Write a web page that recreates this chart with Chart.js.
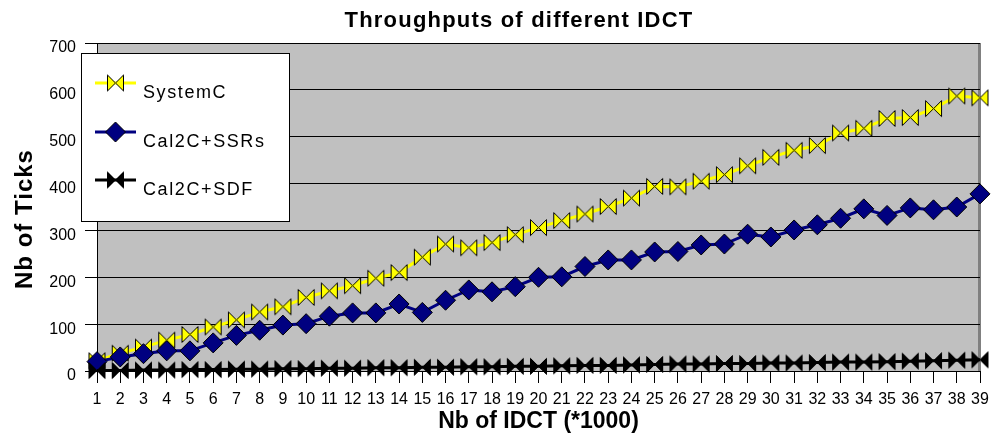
<!DOCTYPE html>
<html>
<head>
<meta charset="utf-8">
<script src="https://cdn.jsdelivr.net/npm/chart.js@4"></script>
<style>body{margin:0;background:#fff}</style>
</head>
<body>
<canvas id="container" width="1000" height="438"></canvas>
<script>
const idct = ['1','2','3','4','5','6','7','8','9','10','11','12','13','14','15','16','17','18','19','20',
    '21','22','23','24','25','26','27','28','29','30','31','32','33','34','35','36','37','38','39']
const systemC = [22, 38, 51, 66, 78, 94, 109, 126, 137, 157, 171, 182, 198, 210, 243, 271, 263, 274, 291, 306,
    321, 335, 351, 369, 394, 393, 405, 419, 438, 456, 471, 481, 508, 518, 539, 541, 560, 587, 583]
const ssrs = [20, 30, 37, 43, 43, 60, 76, 87, 98, 101, 117, 124, 124, 143, 125, 151, 173, 169, 180, 200,
    201, 223, 237, 237, 254, 255, 269, 271, 292, 286, 301, 312, 326, 346, 332, 348, 344, 350, 378]
const sdf = [1, 1, 2, 2, 3, 3, 4, 4, 5, 5, 6, 6, 7, 7, 8, 8, 9, 9, 10, 10,
    11, 12, 12, 13, 14, 15, 15, 16, 16, 17, 17, 18, 19, 19, 20, 21, 22, 23, 24]
const yTicks = [0, 100, 200, 300, 400, 500, 600, 700]
const chartTitle = 'Throughputs of different IDCT'
const yTitle = 'Nb of Ticks'

const family = '"Liberation Sans", Arial, sans-serif'
Chart.defaults.font.family = family
Chart.defaults.color = '#000'

// bowtie marker drawn once, reused by the points and the legend
function bowtie(fill) {
    const c = document.createElement('canvas')
    c.width = 19
    c.height = 19
    const g = c.getContext('2d')
    g.beginPath()
    g.moveTo(1.5, 1.5); g.lineTo(9.5, 9.5); g.lineTo(1.5, 17.5); g.closePath()
    g.moveTo(17.5, 1.5); g.lineTo(9.5, 9.5); g.lineTo(17.5, 17.5); g.closePath()
    g.fillStyle = fill
    g.fill()
    g.strokeStyle = '#000'
    g.lineWidth = 1
    g.stroke()
    return c
}
const yellowTie = bowtie('#ffff00')
const blackTie = bowtie('#000')

const plotBg = {
    id: 'plotBg',
    beforeDraw(chart) {
        const { ctx, chartArea: a } = chart
        ctx.save()
        ctx.fillStyle = '#c0c0c0'
        ctx.fillRect(a.left, a.top, a.right - a.left, a.bottom - a.top)
        ctx.fillStyle = '#808080'
        ctx.fillRect(a.right - 2, a.top, 3, a.bottom - a.top)
        ctx.restore()
    }
}

// title and y title are placed by hand: the original sits them off-centre and letter-spaced
const titles = {
    id: 'titles',
    afterDraw(chart) {
        const ctx = chart.ctx
        ctx.save()
        ctx.fillStyle = '#000'
        ctx.textAlign = 'center'
        ctx.textBaseline = 'middle'
        ctx.font = 'bold 22px ' + family
        ctx.letterSpacing = '1.2px'
        ctx.fillText(chartTitle, 519, 21)
        ctx.translate(25, 219)
        ctx.rotate(-Math.PI / 2)
        ctx.font = 'bold 24px ' + family
        ctx.letterSpacing = '1px'
        ctx.fillText(yTitle, 0, 0)
        ctx.restore()
    }
}

const legendBox = {
    id: 'legendBox',
    afterDraw(chart) {
        const ctx = chart.ctx
        ctx.save()
        ctx.fillStyle = '#fff'
        ctx.fillRect(81, 53, 209, 169)
        ctx.strokeStyle = '#000'
        ctx.lineWidth = 1
        ctx.strokeRect(81.5, 53.5, 208, 168)
        const rows = [83, 132, 180]
        chart.data.datasets.forEach((ds, i) => {
            const y = rows[i]
            ctx.strokeStyle = ds.borderColor
            ctx.lineWidth = 3
            ctx.beginPath()
            ctx.moveTo(95, y)
            ctx.lineTo(136, y)
            ctx.stroke()
            if (ds.pointStyle === 'rectRot') {
                ctx.beginPath()
                ctx.moveTo(115.5, y - 10)
                ctx.lineTo(125.5, y)
                ctx.lineTo(115.5, y + 10)
                ctx.lineTo(105.5, y)
                ctx.closePath()
                ctx.fillStyle = ds.pointBackgroundColor
                ctx.fill()
                ctx.strokeStyle = '#000'
                ctx.lineWidth = 1
                ctx.stroke()
            } else {
                ctx.drawImage(ds.pointStyle, 115.5 - 9.5, y - 9.5)
            }
            ctx.fillStyle = '#000'
            ctx.font = '18px ' + family
            ctx.letterSpacing = '1.6px'
            ctx.textBaseline = 'middle'
            ctx.fillText(ds.label, 143, y + 10)
        })
        ctx.restore()
    }
}

new Chart(document.getElementById('container'), {
    type: 'line',
    data: {
        labels: idct,
        datasets: [
            {
                label: 'SystemC',
                data: systemC,
                borderColor: '#ffff00',
                borderWidth: 3,
                tension: 0,
                pointStyle: yellowTie,
                pointRadius: 8,
                order: 3,
                clip: false
            },
            {
                label: 'Cal2C+SSRs',
                data: ssrs,
                borderColor: '#000080',
                borderWidth: 3,
                tension: 0,
                pointStyle: 'rectRot',
                pointRadius: 10,
                pointBackgroundColor: '#000080',
                pointBorderColor: '#000',
                pointBorderWidth: 1,
                order: 2,
                clip: false
            },
            {
                label: 'Cal2C+SDF',
                data: sdf,
                borderColor: '#000',
                borderWidth: 3,
                tension: 0,
                pointStyle: blackTie,
                pointRadius: 8,
                order: 1,
                clip: false
            }
        ]
    },
    options: {
        responsive: false,
        devicePixelRatio: 1,
        animation: false,
        layout: { padding: { left: 0, right: 20, top: 43, bottom: 0 } },
        plugins: {
            legend: { display: false },
            tooltip: { enabled: false },
            title: { display: false }
        },
        scales: {
            x: {
                offset: false,
                grid: { drawOnChartArea: false, color: '#000', tickLength: 12, offset: false },
                border: { color: '#000' },
                ticks: { color: '#000', font: { size: 16 }, padding: 7, maxRotation: 0, autoSkip: false },
                title: {
                    display: true,
                    text: 'Nb of IDCT (*1000)',
                    color: '#000',
                    font: { size: 23, weight: 'bold' },
                    padding: { top: 4, bottom: 3 }
                },
                afterFit(scale) { scale.height = 67 }
            },
            y: {
                min: 0,
                max: 700,
                afterBuildTicks(scale) { scale.ticks = yTicks.map(v => ({ value: v })) },
                grid: { color: '#000', tickLength: 12 },
                border: { color: '#000' },
                ticks: { color: '#000', font: { size: 16 }, padding: 9, labelOffset: 5 },
                title: { display: false },
                afterFit(scale) { scale.width = 97 }
            }
        }
    },
    plugins: [plotBg, titles, legendBox]
})
</script>
</body>
</html>
